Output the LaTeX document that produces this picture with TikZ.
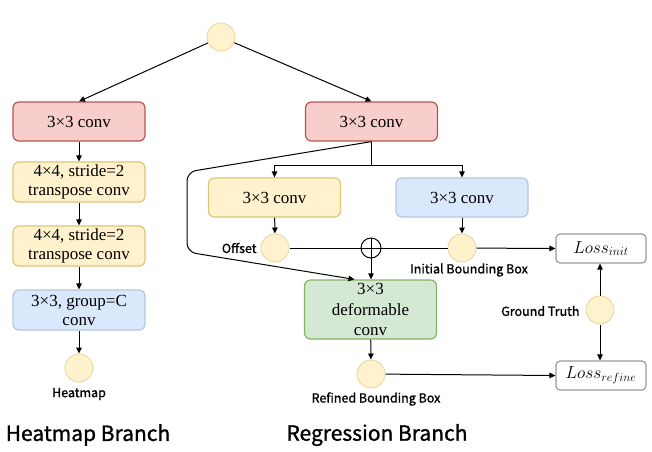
\documentclass[tikz,border=0pt]{standalone}
\usepackage{fontspec}
\setmainfont{Liberation Serif}
\newfontfamily\labfont{Noto Sans CJK SC}
\usetikzlibrary{arrows.meta,calc}
\definecolor{redf}{HTML}{F8CECC}\definecolor{redd}{HTML}{B85450}
\definecolor{yelf}{HTML}{FFF2CC}\definecolor{yeld}{HTML}{D6B656}
\definecolor{bluf}{HTML}{DAE8FC}\definecolor{blud}{HTML}{6C8EBF}
\definecolor{grnf}{HTML}{D5E8D4}\definecolor{grnd}{HTML}{82B366}
\definecolor{grayd}{HTML}{999999}
\tikzset{
  box/.style={draw, line width=1.2pt, rounded corners=6pt, minimum width=132pt, minimum height=39pt, align=center, font=\fontsize{17}{19}\selectfont, inner sep=1pt},
  redbox/.style={box, fill=redf, draw=redd},
  yelbox/.style={box, fill=yelf, draw=yeld!80},
  blubox/.style={box, fill=bluf, draw=blud!50},
  grnbox/.style={box, fill=grnf, draw=grnd, minimum height=59pt},
  lossbox/.style={draw=grayd, line width=1.2pt, rounded corners=4pt, minimum width=90pt, minimum height=29pt, font=\fontsize{18}{18}\selectfont, inner sep=0pt},
  dot/.style={circle, fill=yelf, draw=yeld!50, line width=1pt, minimum size=28pt, inner sep=0pt},
  plusc/.style={circle, draw, line width=1pt, minimum size=20pt, inner sep=0pt},
  lab/.style={font=\labfont\addfontfeature{FakeBold=1.2}\fontsize{12.5}{13}\selectfont},
  title/.style={font=\labfont\addfontfeature{FakeBold=1.2}\fontsize{21}{23}\selectfont},
  arr/.style={-{Triangle[length=6pt,width=5.5pt]}, line width=1pt},
  ln/.style={line width=1pt},
}
\begin{document}
\begin{tikzpicture}[x=1pt,y=-1pt]
\useasboundingbox (0,0) rectangle (652,451);
% top
\node[dot] (top) at (221,37) {};
% heatmap branch
\node[redbox] (lc) at (79,121.5) {3×3 conv};
\node[yelbox, minimum height=40pt] (t1) at (79,182) {4×4, stride=2\\transpose conv};
\node[yelbox, minimum height=40pt] (t2) at (79,246) {4×4, stride=2\\transpose conv};
\node[blubox, minimum height=40pt] (gc) at (79,310) {3×3, group=C\\conv};
\node[dot] (hm) at (79,368) {};
\node[lab] (hml) at (79,394) {Heatmap};
\node[title] (ht) at (88,435) {Heatmap Branch};
% regression branch
\node[redbox] (rc) at (371.5,121.5) {3×3 conv};
\node[yelbox] (oc) at (274.5,197.5) {3×3 conv};
\node[blubox] (ic) at (462,197.5) {3×3 conv};
\node[dot] (off) at (275,248) {};
\node[lab, anchor=east] (offl) at (260,248) {Offset};
\node[plusc] (plus) at (371,248) {};
\draw[line width=1pt] (plus.north) -- (plus.south) (plus.west) -- (plus.east);
\node[dot] (ib) at (462,248) {};
\node[lab] (ibl) at (469,270) {Initial Bounding Box};
\node[grnbox, font=\fontsize{17}{20.5}\selectfont] (def) at (370.5,309.5) {3×3\\deformable\\conv};
\node[dot] (rb) at (371,374) {};
\node[lab] (rbl) at (376,399) {Refined Bounding Box};
\node[title] (rt) at (377,435) {Regression Branch};
\node[lossbox] (li) at (601,248.5) {$Loss_{init}$};
\node[lossbox] (lr) at (601,375.5) {$Loss_{refine}$};
\node[dot] (gt) at (600,310) {};
\node[lab, anchor=east] (gtl) at (583,311) {Ground Truth};
% connectors
\draw[arr] (top) -- (lc.north);
\draw[arr] (top) -- (rc.north);
\draw[arr] (lc) -- (t1);
\draw[arr] (t1) -- (t2);
\draw[arr] (t2) -- (gc);
\draw[arr] (gc) -- (hm);
\coordinate (sp) at (371.5,165);
\draw[ln] (rc.south) -- (sp);
\draw[arr] (sp) -| (oc.north);
\draw[arr] (sp) -| (ic.north);
\draw[arr, rounded corners=9pt] (rc.south) -- (187,172) -- (187,252) -- ($(def.north)+(-16,0)$);
\draw[arr] (oc) -- (off);
\draw[arr] (ic) -- (ib);
\draw[ln] (off) -- (plus);
\draw[ln] (plus) -- (ib);
\draw[arr] (ib) -- (li.west);
\draw[arr] (plus) -- (def.north -| plus);
\draw[arr] (def) -- (rb);
\draw[arr] (rb) -- (lr.west);
\draw[arr] (gt) -- (li.south -| gt);
\draw[arr] (gt) -- (lr.north -| gt);
\end{tikzpicture}
\end{document}
